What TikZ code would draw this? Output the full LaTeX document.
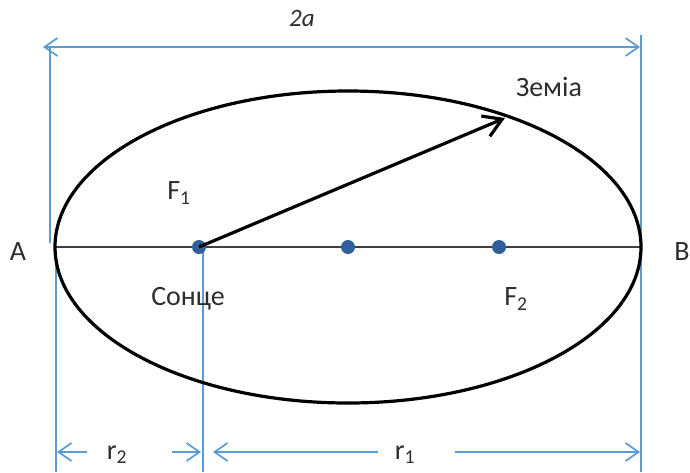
\documentclass[tikz,border=0pt]{standalone}
\usepackage{fontspec}
\setmainfont{Carlito}
\usetikzlibrary{arrows.meta}
\definecolor{dimblue}{HTML}{5B9BD5}
\definecolor{dotblue}{HTML}{2F5F9A}
\definecolor{txt}{HTML}{2E2E2E}
\tikzset{
  dimline/.style={draw=dimblue, line width=1.7pt},
  dimarrow/.style={dimline, -{Straight Barb[length=13pt,width=18pt,line width=1.7pt]}},
  lbl/.style={text=txt, font=\fontsize{28}{32}\selectfont, inner sep=0pt},
  focus/.style={circle, fill=dotblue, minimum size=14pt, inner sep=0pt},
}
\begin{document}
\begin{tikzpicture}[x=1pt,y=-1pt]
\useasboundingbox (0,0) rectangle (690,472);
\fill[white] (0,0) rectangle (690,472);
% key points
\coordinate (A) at (55,247);
\coordinate (B) at (641,247);
\coordinate (O) at (348,247);
\coordinate (E) at (505,118);
% dimension verticals
\coordinate (tl1) at (50,47);
\coordinate (tl2) at (50,243);
\coordinate (tr1) at (641,35);
\coordinate (tr2) at (641,472);
\coordinate (bl1) at (56,250);
\coordinate (bl2) at (56,472);
\coordinate (s1) at (203,251);
\coordinate (s2) at (203,472);
\draw[dimline] (tl1) -- (tl2);
\draw[dimline] (tr1) -- (tr2);
\draw[dimline] (bl1) -- (bl2);
\draw[dimline] (s1) -- (s2);
% top dimension 2a
\coordinate (ta) at (43,47);
\coordinate (tb) at (640,47);
\draw[dimline, {Straight Barb[length=13pt,width=18pt,line width=1.7pt]}-{Straight Barb[length=13pt,width=18pt,line width=1.7pt]}] (ta) -- (tb);
\node[lbl, font=\fontsize{25}{28}\selectfont\itshape] (twoa) at (302,18) {2a};
% axis
\draw[draw=black!75, line width=2.5pt] (A) -- (B);
% ellipse
\draw[black, line width=3.2pt] (O) ellipse [x radius=293, y radius=156];
% foci
\node[focus] (F1) at (199,247) {};
\node[focus] (C) at (O) {};
\node[focus] (F2) at (499,247) {};
% radius vector
\draw[black, line width=3.2pt, -{Straight Barb[length=18pt,width=22pt,line width=3.2pt]}] (F1.center) -- (E);
% labels
\node[lbl] (la) at (18,252) {A};
\node[lbl] (lb) at (682,252) {B};
\node[lbl] (lf1) at (179,193) {F\textsubscript{1}};
\node[lbl] (lf2) at (516,299) {F\textsubscript{2}};
\node[lbl] (sun) at (188,299) {Сонце};
\node[lbl] (earth) at (549,87) {Земіа};
% bottom dimensions
\coordinate (r2a) at (87,452);
\coordinate (r2b) at (57,452);
\coordinate (r2c) at (172,452);
\coordinate (r2d) at (201,452);
\coordinate (r1a) at (378,452);
\coordinate (r1b) at (213,452);
\coordinate (r1c) at (455,452);
\coordinate (r1d) at (640,452);
\draw[dimarrow] (r2a) -- (r2b);
\draw[dimarrow] (r2c) -- (r2d);
\draw[dimarrow] (r1a) -- (r1b);
\draw[dimarrow] (r1c) -- (r1d);
\node[lbl] (lr2) at (117,455) {r\textsubscript{2}};
\node[lbl] (lr1) at (405,455) {r\textsubscript{1}};
\end{tikzpicture}
\end{document}
